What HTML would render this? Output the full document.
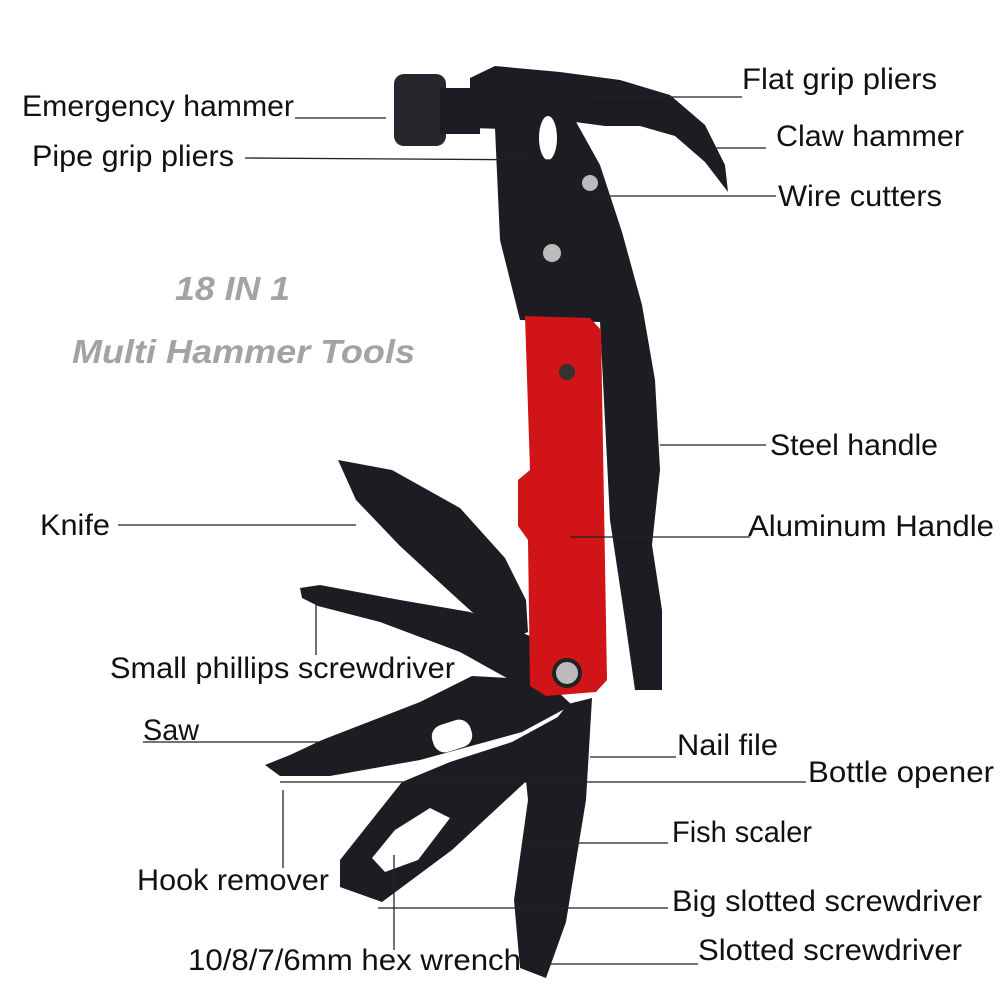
<!DOCTYPE html>
<html><head><meta charset="utf-8"><style>
html,body{margin:0;padding:0;background:#fff;}
svg{display:block;}
text{font-family:"Liberation Sans",sans-serif;font-size:30px;fill:#111;}
.t{font-style:italic;font-weight:bold;fill:#a3a3a3;font-size:33px;}
</style></head><body>
<svg width="1000" height="1000" viewBox="0 0 1000 1000">
<g fill="#1c1c22">
<rect x="394" y="74" width="52" height="72" rx="10" fill="#26262c"/>
<rect x="440" y="88" width="40" height="46"/>
<polygon points="470,78 495,66 560,72 620,80 670,95 705,125 725,165 728,192 705,162 675,136 640,126 605,126 575,122 540,130 470,128"/>
<polygon points="495,128 575,120 600,165 622,232 642,305 655,380 660,470 652,545 662,610 662,690 635,690 625,620 610,520 600,322 520,320 500,240"/>
<polygon points="338,460 392,470 460,508 505,558 526,600 528,632 505,642 450,592 400,546 356,500"/>
<polygon points="300,588 320,585 400,600 470,612 540,640 562,680 532,692 460,652 380,622 318,606 302,598"/>
<polygon points="265,765 290,755 322,740 420,702 472,676 545,680 572,705 522,732 420,760 330,776 280,776"/>
<polygon points="450,762 512,742 578,706 562,748 452,850 382,902 340,887 340,860 402,782"/>
<polygon points="568,704 592,698 586,800 566,922 546,978 520,968 514,900 528,800 524,760"/>
</g>
<rect x="432" y="722" width="40" height="28" rx="12" fill="#fff" transform="rotate(-18 452 736)"/>
<polygon points="372,858 395,830 430,808 450,818 418,860 385,872" fill="#fff"/>
<polygon points="525,316 590,318 601,330 607,680 596,692 546,696 530,686 528,540 518,526 518,480 530,470" fill="#d01418"/>
<circle cx="567" cy="673" r="13" fill="#bbb" stroke="#222" stroke-width="4"/>
<circle cx="567" cy="372" r="8" fill="#333"/>
<circle cx="552" cy="253" r="9" fill="#bbb"/>
<circle cx="590" cy="183" r="8" fill="#bbb"/>
<ellipse cx="548" cy="138" rx="9" ry="22" fill="#fff"/>
<g stroke="#222" stroke-width="1.3" fill="none">
<line x1="295" y1="118" x2="386" y2="118"/>
<line x1="245" y1="158" x2="555" y2="160"/>
<line x1="590" y1="97" x2="742" y2="97"/>
<line x1="715" y1="148" x2="766" y2="148"/>
<line x1="590" y1="196" x2="776" y2="196"/>
<line x1="660" y1="445" x2="766" y2="445"/>
<line x1="118" y1="525" x2="356" y2="525"/>
<line x1="570" y1="537" x2="750" y2="537"/>
<line x1="316" y1="605" x2="316" y2="655"/>
<line x1="143" y1="742" x2="320" y2="742"/>
<line x1="590" y1="757" x2="676" y2="757"/>
<line x1="280" y1="782" x2="806" y2="782"/>
<line x1="525" y1="843" x2="668" y2="843"/>
<line x1="283" y1="790" x2="283" y2="868"/>
<line x1="378" y1="908" x2="668" y2="908"/>
<line x1="394" y1="855" x2="394" y2="950"/>
<line x1="540" y1="964" x2="698" y2="964"/>
</g>
<g lengthAdjust="spacingAndGlyphs">
<text x="22" y="116" textLength="272" lengthAdjust="spacingAndGlyphs">Emergency hammer</text>
<text x="32" y="166" textLength="202" lengthAdjust="spacingAndGlyphs">Pipe grip pliers</text>
<text x="742" y="89" textLength="195" lengthAdjust="spacingAndGlyphs">Flat grip pliers</text>
<text x="776" y="146" textLength="188" lengthAdjust="spacingAndGlyphs">Claw hammer</text>
<text x="778" y="206" textLength="164" lengthAdjust="spacingAndGlyphs">Wire cutters</text>
<text class="t" x="175" y="300" textLength="115" lengthAdjust="spacingAndGlyphs">18 IN 1</text>
<text class="t" x="72" y="363" textLength="343" lengthAdjust="spacingAndGlyphs">Multi Hammer Tools</text>
<text x="770" y="455" textLength="168" lengthAdjust="spacingAndGlyphs">Steel handle</text>
<text x="40" y="535" textLength="70" lengthAdjust="spacingAndGlyphs">Knife</text>
<text x="748" y="536" textLength="246" lengthAdjust="spacingAndGlyphs">Aluminum Handle</text>
<text x="110" y="678" textLength="345" lengthAdjust="spacingAndGlyphs">Small phillips screwdriver</text>
<text x="143" y="740" textLength="56" lengthAdjust="spacingAndGlyphs">Saw</text>
<text x="677" y="755" textLength="101" lengthAdjust="spacingAndGlyphs">Nail file</text>
<text x="808" y="782" textLength="186" lengthAdjust="spacingAndGlyphs">Bottle opener</text>
<text x="672" y="842" textLength="140" lengthAdjust="spacingAndGlyphs">Fish scaler</text>
<text x="137" y="890" textLength="192" lengthAdjust="spacingAndGlyphs">Hook remover</text>
<text x="672" y="911" textLength="310" lengthAdjust="spacingAndGlyphs">Big slotted screwdriver</text>
<text x="188" y="970" textLength="333" lengthAdjust="spacingAndGlyphs">10/8/7/6mm hex wrench</text>
<text x="698" y="960" textLength="264" lengthAdjust="spacingAndGlyphs">Slotted screwdriver</text>
</g>
</svg>
</body></html>
